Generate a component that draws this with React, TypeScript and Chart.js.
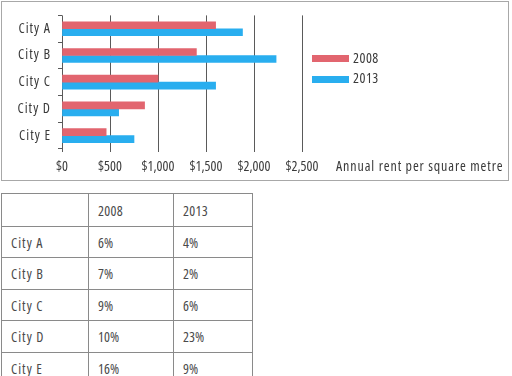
import React, { useEffect, useRef } from 'react';
import { Chart, registerables } from 'chart.js';

Chart.register(...registerables);

const categories = ['City A', 'City B', 'City C', 'City D', 'City E'];
const rent2008 = [1600, 1400, 1000, 860, 460];
const rent2013 = [1880, 2230, 1600, 590, 750];
const seriesLabels = ['2008', '2013'];
const xTicks = [0, 500, 1000, 1500, 2000, 2500];
const axisTitle = 'Annual rent per square metre';
const tableHeader = ['', '2008', '2013'];
const growth2008 = ['6%', '7%', '9%', '10%', '16%'];
const growth2013 = ['4%', '2%', '6%', '23%', '9%'];

const FAMILY = "'Open Sans', 'DejaVu Sans Condensed', sans-serif";
const TEXT = '#3a3a3a';
const RED = '#e2656f';
const BLUE = '#29aeef';
const GRID = '#5a5a5a';
const numFont = { family: FAMILY, size: 14, weight: 'condensed' as any };

const extrasPlugin = {
  id: 'extras',
  beforeDraw(chart: any) {
    const ys = chart.scales.y;
    if (ys && !ys.__spaced) {
      const orig = ys.drawLabels.bind(ys);
      ys.drawLabels = (area: any) => {
        const c = chart.ctx;
        c.save();
        c.letterSpacing = '1px';
        orig(area);
        c.restore();
      };
      ys.__spaced = true;
    }
  },
  afterDraw(chart: any) {
    const { ctx, chartArea } = chart;
    ctx.save();
    ctx.font = `condensed 14px ${FAMILY}`;
    ctx.textBaseline = 'middle';
    ctx.textAlign = 'left';
    ctx.letterSpacing = '0.5px';
    const x0 = chartArea.right + 10;
    chart.data.datasets.forEach((ds: any, i: number) => {
      const yc = chartArea.top + 43.5 + i * 20.5;
      ctx.fillStyle = ds.backgroundColor;
      ctx.fillRect(x0, Math.round(yc - 3.5), 37, 7);
      ctx.fillStyle = TEXT;
      ctx.fillText(ds.label, x0 + 41, yc);
    });
    ctx.fillStyle = TEXT;
    ctx.letterSpacing = '0.9px';
    ctx.fillText(axisTitle, chartArea.right + 34, chartArea.bottom + 18.5);
    ctx.restore();
  },
};

function BarChart() {
  const ref = useRef<HTMLCanvasElement | null>(null);
  useEffect(() => {
    if (!ref.current) return;
    const chart = new Chart(ref.current, {
      type: 'bar',
      data: {
        labels: categories,
        datasets: [
          { label: seriesLabels[0], data: rent2008, backgroundColor: RED, barThickness: 7 },
          { label: seriesLabels[1], data: rent2013, backgroundColor: BLUE, barThickness: 7 },
        ],
      },
      options: {
        indexAxis: 'y',
        animation: false,
        responsive: false,
        layout: { padding: { top: 14, right: 210, bottom: 0, left: 0 } },
        plugins: { legend: { display: false }, tooltip: { enabled: false } },
        scales: {
          x: {
            min: 0,
            max: 2500,
            afterBuildTicks: (s: any) => {
              s.ticks = xTicks.map((v) => ({ value: v }));
            },
            ticks: {
              callback: (v: any) => '$' + Number(v).toLocaleString('en-US'),
              font: numFont,
              color: TEXT,
              padding: 7,
              maxRotation: 0,
              autoSkip: false,
            },
            grid: { color: GRID, lineWidth: 1, tickLength: 3, drawTicks: true },
            border: { display: false },
            afterFit: (s: any) => {
              s.height = 33;
            },
          },
          y: {
            ticks: { font: numFont, color: TEXT, padding: 7 },
            grid: { drawOnChartArea: false, tickLength: 4, color: GRID },
            border: { display: false },
            afterFit: (s: any) => {
              s.width = 62;
            },
          },
        },
      } as any,
      plugins: [extrasPlugin],
    });
    return () => chart.destroy();
  }, []);
  return <canvas ref={ref} width={512} height={182} style={{ position: 'absolute', left: 0, top: 0 }} />;
}

const cellStyle: React.CSSProperties = {
  border: '1px solid #8a8a8a',
  padding: '0 0 0 9px',
  textAlign: 'left',
  verticalAlign: 'middle',
  fontWeight: 'normal',
  fontStretch: 'condensed',
};
const nameCellStyle: React.CSSProperties = { ...cellStyle, letterSpacing: '1px' };

export default function App() {
  const colWidths = [87, 85, 79];
  return (
    <div style={{ position: 'absolute', left: 0, top: 0, width: 512, height: 376, overflow: 'hidden', background: '#fff' }}>
      <BarChart />
      <div
        style={{
          position: 'absolute',
          left: 1,
          top: 1,
          width: 506,
          height: 178,
          border: '1px solid #a8a8a8',
          pointerEvents: 'none',
        }}
      />
      <table
        style={{
          position: 'absolute',
          left: 1,
          top: 193,
          borderCollapse: 'collapse',
          fontFamily: FAMILY,
          fontSize: 14,
          color: '#4a4a4a',
          tableLayout: 'fixed',
          width: colWidths.reduce((a, b) => a + b, 0),
        }}
      >
        <colgroup>
          {colWidths.map((w, i) => (
            <col key={i} style={{ width: w }} />
          ))}
        </colgroup>
        <tbody>
          <tr style={{ height: 33 }}>
            {tableHeader.map((h, i) => (
              <td key={i} style={{ ...cellStyle, letterSpacing: '0.3px' }}>{h}</td>
            ))}
          </tr>
          {categories.map((c, i) => (
            <tr key={c} style={{ height: i % 2 === 0 ? 31 : 32 }}>
              <td style={nameCellStyle}>{c}</td>
              <td style={cellStyle}>{growth2008[i]}</td>
              <td style={cellStyle}>{growth2013[i]}</td>
            </tr>
          ))}
        </tbody>
      </table>
    </div>
  );
}
